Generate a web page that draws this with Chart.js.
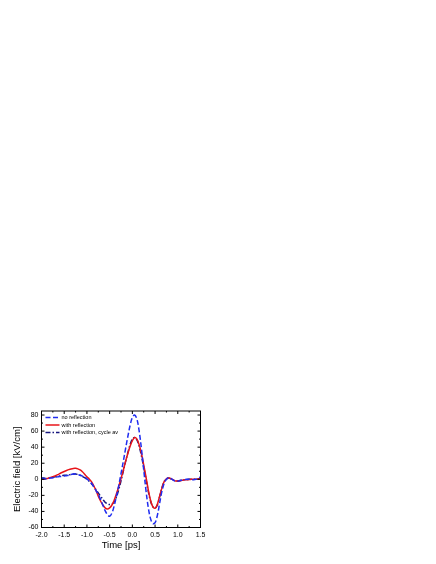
<!DOCTYPE html>
<html lang="en">
<head>
  <meta charset="utf-8" />
  <title>Electric field</title>
  <script src="https://cdn.jsdelivr.net/npm/chart.js@4.4.1/dist/chart.umd.min.js"></script>
  <style>
    body { margin: 0; background: #fff; width: 436px; height: 564px; position: relative; }
    #box { position: absolute; left: 0; top: 400px; width: 210px; height: 160px; }
  </style>
</head>
<body>
  <div id="box"><canvas id="chart"></canvas></div>
  <script>
    // time axis in ps
    const times = [-2.0, -1.95, -1.9, -1.85, -1.8, -1.75, -1.7, -1.65, -1.6, -1.55,
      -1.5, -1.45, -1.4, -1.35, -1.3, -1.25, -1.2, -1.15, -1.1, -1.05,
      -1.0, -0.95, -0.9, -0.85, -0.8, -0.75, -0.7, -0.65, -0.6, -0.55,
      -0.5, -0.45, -0.4, -0.35, -0.3, -0.25, -0.2, -0.15, -0.1, -0.05,
      0.0, 0.05, 0.1, 0.15, 0.2, 0.25, 0.3, 0.35, 0.4, 0.45,
      0.5, 0.55, 0.6, 0.65, 0.7, 0.75, 0.8, 0.85, 0.9, 0.95,
      1.0, 1.05, 1.1, 1.15, 1.2, 1.25, 1.3, 1.35, 1.4, 1.45, 1.5];

    // field in kV/cm
    const noReflection = [1, 1, 0.5, 1, 1.5, 2, 2.5, 3, 3.5, 3.5,
      4, 4.5, 5, 6, 6.5, 6.5, 6, 5, 4, 2.5,
      0.5, -2, -5, -9, -14, -19, -25, -32, -39, -44,
      -46, -42, -33, -21, -8, 7, 22, 38, 53, 67,
      77, 80, 75, 60, 38, 12, -14, -35, -49, -55,
      -54, -45, -30, -15, -5, 0, 2, 1, -1, -2.5,
      -2.5, -1.5, -1, -0.5, 0, 0, -0.5, -0.5, 0, 1, 3];

    const withReflection = [0, 0.3, 0.8, 1.4, 2.2, 3.2, 4.3, 5.6, 7, 8.4,
      9.7, 10.9, 12, 12.9, 13.5, 13.6, 13, 11.6, 9.4, 6.4,
      3, 0.5, -3, -8, -14, -21, -27, -32, -35.5, -37,
      -35.5, -32, -26, -18, -9, 1, 11, 22, 32, 41,
      48, 52, 50, 43, 32, 18, 3, -13, -26, -34,
      -36, -31, -21, -11, -3, 0.5, 1.5, 0.8, -0.8, -2,
      -2.2, -1.8, -1.2, -0.7, -0.5, -0.3, 0, 0, 0, 0.3, 0.5];

    const cycleAv = [1.5, 1.5, 1, 1.5, 2, 2.5, 3, 3.5, 4, 4.5,
      5, 5, 5.5, 6, 6.5, 6.5, 6, 5, 3.5, 2,
      0, -2.5, -5.5, -9, -13, -17, -21, -25, -28.5, -30.5,
      -31.5, -31, -28, -22, -13, -2, 10, 22, 33, 43,
      50, 52, 49, 41, 29, 15, 0, -15, -27, -34,
      -36, -32, -22, -11, -3, 0.5, 1.5, 0.5, -1, -2,
      -2, -1.5, -1, -0.5, -0.3, 0, 0, 0, 0, 0.5, 1.5];

    const xTicks = [-2.0, -1.5, -1.0, -0.5, 0.0, 0.5, 1.0, 1.5];
    const yTicks = [-60, -40, -20, 0, 20, 40, 60, 80];

    function pts(vals) {
      return times.map((t, i) => ({ x: t, y: vals[i] }));
    }

    // frame with inward ticks on all four sides, plus legend inside the plot
    const framePlugin = {
      id: 'frame',
      afterDatasetsDraw(chart) {
        const { ctx, chartArea: a, scales } = chart;
        ctx.save();
        ctx.strokeStyle = '#000';
        ctx.lineWidth = 1;
        ctx.strokeRect(a.left, a.top, a.right - a.left, a.bottom - a.top);
        ctx.beginPath();
        for (let v = -2.0; v <= 1.5001; v += 0.25) {
          const px = scales.x.getPixelForValue(v);
          const len = Math.abs(v * 2 - Math.round(v * 2)) < 0.01 ? 3 : 1.5;
          ctx.moveTo(px, a.bottom); ctx.lineTo(px, a.bottom - len);
          ctx.moveTo(px, a.top); ctx.lineTo(px, a.top + len);
        }
        for (let v = -60; v <= 80; v += 10) {
          const py = scales.y.getPixelForValue(v);
          const len = v % 20 === 0 ? 3 : 1.5;
          ctx.moveTo(a.left, py); ctx.lineTo(a.left + len, py);
          ctx.moveTo(a.right, py); ctx.lineTo(a.right - len, py);
        }
        ctx.stroke();

        // legend
        ctx.font = '5.5px "Liberation Sans", Arial, sans-serif';
        ctx.textBaseline = 'middle';
        chart.data.datasets.forEach((ds, i) => {
          const y = a.top + 6.5 + i * 7.5;
          ctx.beginPath();
          ctx.strokeStyle = ds.borderColor;
          ctx.lineWidth = ds.borderWidth;
          ctx.setLineDash(ds.borderDash || []);
          ctx.moveTo(a.left + 4, y);
          ctx.lineTo(a.left + 18, y);
          ctx.stroke();
          ctx.setLineDash([]);
          ctx.fillStyle = '#000';
          ctx.fillText(ds.label, a.left + 20, y);
        });
        ctx.restore();
      }
    };

    new Chart(document.getElementById('chart'), {
      type: 'line',
      data: {
        datasets: [
          { label: 'no reflection', data: pts(noReflection), borderColor: '#1f2cf0',
            borderWidth: 1.5, borderDash: [5, 2.5] },
          { label: 'with reflection', data: pts(withReflection), borderColor: '#e8141a',
            borderWidth: 1.5 },
          { label: 'with reflection, cycle av', data: pts(cycleAv), borderColor: '#15157e',
            borderWidth: 1.5, borderDash: [5, 2, 1.5, 2] }
        ]
      },
      options: {
        responsive: true,
        maintainAspectRatio: false,
        animation: false,
        layout: { padding: { left: 0, top: 11, right: 9.5, bottom: 0 } },
        elements: { point: { radius: 0 }, line: { tension: 0.35, fill: false } },
        plugins: { legend: { display: false }, tooltip: { enabled: false } },
        scales: {
          x: {
            type: 'linear', min: -2.0, max: 1.5,
            afterBuildTicks: s => { s.ticks = xTicks.map(v => ({ value: v })); },
            afterFit: s => { s.height = 32.5; },
            grid: { display: false, drawTicks: false },
            border: { display: false },
            ticks: {
              padding: 3, color: '#000', maxRotation: 0,
              font: { family: '"Liberation Sans", Arial, sans-serif', size: 7 },
              callback: v => v.toFixed(1)
            },
            title: {
              display: true, text: 'Time [ps]', color: '#000',
              font: { family: '"Liberation Sans", Arial, sans-serif', size: 9.5 },
              padding: { top: 0, bottom: 8.5 }
            }
          },
          y: {
            min: -60, max: 85,
            afterBuildTicks: s => { s.ticks = yTicks.map(v => ({ value: v })); },
            afterFit: s => { s.width = 41.5; },
            grid: { display: false, drawTicks: false },
            border: { display: false },
            ticks: {
              padding: 3, color: '#000',
              font: { family: '"Liberation Sans", Arial, sans-serif', size: 7 }
            },
            title: {
              display: true, text: 'Electric field [kV/cm]', color: '#000',
              font: { family: '"Liberation Sans", Arial, sans-serif', size: 9.5 },
              padding: { top: 11.5, bottom: 0 }
            }
          }
        }
      },
      plugins: [framePlugin]
    });
  </script>
</body>
</html>
